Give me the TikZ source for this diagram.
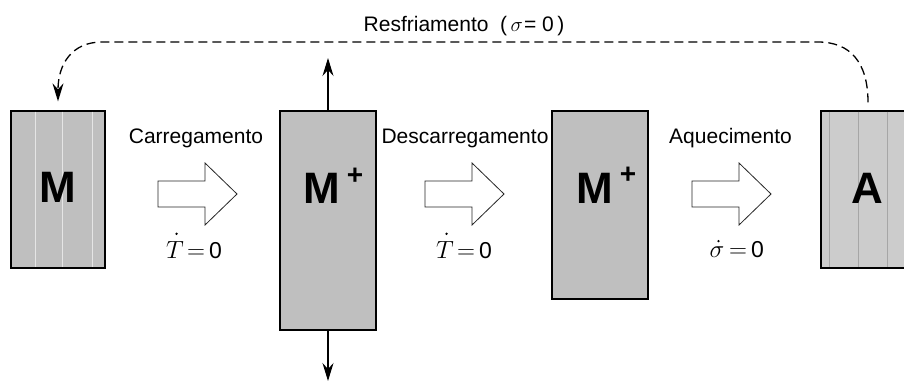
\documentclass[tikz,border=0pt]{standalone}
\usepackage{fontspec}
\setmainfont{Liberation Sans}
\usetikzlibrary{arrows.meta}

\tikzset{
  bar/.style={draw=black, line width=1.3pt, fill=#1, inner sep=0pt},
  stripe/.style={draw=#1, line width=1pt},
  lbl/.style={font=\fontsize{21}{25}\selectfont, inner sep=0pt, anchor=base},
  eqn/.style={font=\fontsize{23}{27}\selectfont, inner sep=0pt, anchor=base},
  eqr/.style={font=\fontsize{23}{27}\selectfont, inner sep=0pt, anchor=base west},
  rate/.style={fill=black, radius=1.3pt},
  letter/.style={font=\fontsize{44}{48}\selectfont\bfseries, inner sep=0pt, anchor=base},
  plus/.style={font=\fontsize{28}{30}\selectfont\bfseries, inner sep=0pt},
  hollow/.style={draw=black!85, line width=0.8pt, fill=white, line join=miter},
  flow/.style={line width=1.2pt, -{Stealth[length=18pt, width=11pt, inset=6pt]}},
  cool/.style={line width=1.3pt, dash pattern=on 9pt off 5pt,
               -{Stealth[length=18pt, width=11pt, inset=6pt]}},
  pics/hollowarrow/.style={code={
    \draw[hollow] (0,-13) -- (47,-13) -- (47,-31) -- (79,0) -- (47,31)
                  -- (47,13) -- (0,13) -- cycle;
  }}
}

\begin{document}
\begin{tikzpicture}[x=1pt, y=-1pt]
  \clip (0,0) rectangle (904,382);
  \fill[white] (0,0) rectangle (904,382);

  % phase blocks
  \node[bar=black!25, minimum width=94pt, minimum height=157pt] (m) at (58,189.5) {};
  \node[bar=black!25, minimum width=96pt, minimum height=219pt] (mp1) at (328,220.5) {};
  \node[bar=black!25, minimum width=96pt, minimum height=188pt] (mp2) at (600,205) {};
  \node[bar=black!20, minimum width=94pt, minimum height=157pt] (a) at (868,189.5) {};

  % variant stripes
  \foreach \x in {35,62,92}
    \draw[stripe=black!10] (\x,111.7) -- (\x,267.3);
  \foreach \x in {829,858,887}
    \draw[stripe=black!35] (\x,111.7) -- (\x,267.3);
  \draw[line width=1.3pt] (a.north west) rectangle (a.south east);

  % block letters
  \node[letter] (mt) at (57.5,202) {M};
  \node[letter] (mp1t) at (321.5,203) {M};
  \node[plus] (mp1p) at (355,176) {+};
  \node[letter] (mp2t) at (595,203) {M};
  \node[plus] (mp2p) at (628,175) {+};
  \node[letter] (at) at (867.5,203) {A};

  % transformation arrows
  \pic at (158,194) {hollowarrow};
  \pic at (425,194) {hollowarrow};
  \pic at (692,194) {hollowarrow};

  % labels
  \node[lbl] (l1) at (196,144) {Carregamento};
  \node[lbl] (l2) at (465,144) {Descarregamento};
  \node[lbl] (l3) at (730.5,144) {Aquecimento};
  \node[lbl] (l4) at (464,32) {Resfriamento~~(\,$\sigma$\kern1pt= 0\,)};

  % rate conditions (variable, dot, right-hand side)
  \node[eqn] (e1) at (175,258) {$T$};
  \fill[rate] ([xshift=1.5pt, yshift=7pt]e1.north) circle;
  \node[eqr] (r1) at (187,258) {$=$\kern4pt 0};

  \node[eqn] (e2) at (445,258) {$T$};
  \fill[rate] ([xshift=1.5pt, yshift=7pt]e2.north) circle;
  \node[eqr] (r2) at (457,258) {$=$\kern4pt 0};

  \node[eqn] (e3) at (717,257) {$\sigma$};
  \fill[rate] ([xshift=1.5pt, yshift=5pt]e3.north) circle;
  \node[eqr] (r3) at (729,257) {$=$\kern4pt 0};

  % applied load
  \coordinate (up) at (328,58);
  \coordinate (down) at (328,381);
  \draw[flow] (mp1.north) -- (up);
  \draw[flow] (mp1.south) -- (down);

  % cooling path back to martensite
  \coordinate (cstart) at ([yshift=8pt]a.north);
  \coordinate (cend) at ([yshift=9pt]m.north);
  \draw[cool] (cstart) .. controls (868,62) and (850,42) .. (818,42)
              -- (102,42) .. controls (72,42) and (58,64) .. (cend);
\end{tikzpicture}
\end{document}
